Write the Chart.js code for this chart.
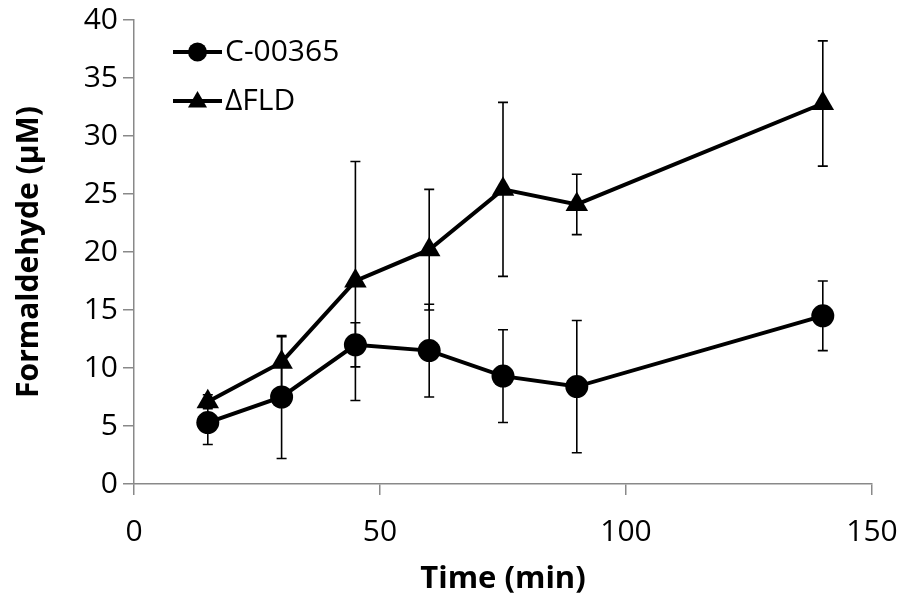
<!DOCTYPE html>
<html>
<head>
<meta charset="utf-8">
<script src="https://cdn.jsdelivr.net/npm/chart.js@4/dist/chart.umd.min.js"></script>
<style>
  html, body { margin: 0; padding: 0; background: #fff; }
  #wrap { width: 898px; height: 603px; }
</style>
</head>
<body>
<div id="wrap"><canvas id="chart" width="898" height="603"></canvas></div>
<script>
// 采样时间 (min)
const times = [15, 30, 45, 60, 75, 90, 140];

// C-00365 甲醛浓度 (μM) 与误差
const c00365 = [5.3, 7.5, 12.0, 11.5, 9.3, 8.4, 14.5];
const c00365Err = [1.9, 5.3, 1.9, 4.0, 4.0, 5.7, 3.0];

// ΔFLD 甲醛浓度 (μM) 与误差
const fld = [7.1, 10.5, 17.5, 20.2, 25.4, 24.1, 32.8];
const fldErr = [0.6, 2.2, 10.3, 5.2, 7.5, 2.6, 5.4];

// 坐标轴刻度
const xTicks = [0, 50, 100, 150];
const yTicks = [0, 5, 10, 15, 20, 25, 30, 35, 40];

const FONT = '"Open Sans", "Liberation Sans", sans-serif';
const AXIS_GREY = '#898989';

/**
 * 误差线插件: 按数据集的 errors 数组画上下误差线
 */
const errorBarPlugin = {
  id: 'errorBars',
  beforeDatasetsDraw(chart) {
    const ctx = chart.ctx;
    const xs = chart.scales.x;
    const ys = chart.scales.y;
    ctx.save();
    ctx.strokeStyle = '#000';
    ctx.lineWidth = 1.6;
    chart.data.datasets.forEach(ds => {
      ds.data.forEach((p, i) => {
        const e = ds.errors[i];
        const px = xs.getPixelForValue(p.x);
        const top = ys.getPixelForValue(p.y + e);
        const bot = ys.getPixelForValue(p.y - e);
        ctx.beginPath();
        ctx.moveTo(px, top);
        ctx.lineTo(px, bot);
        ctx.moveTo(px - 5, top);
        ctx.lineTo(px + 5, top);
        ctx.moveTo(px - 5, bot);
        ctx.lineTo(px + 5, bot);
        ctx.stroke();
      });
    });
    ctx.restore();
  }
};

/**
 * 图例插件: 画在绘图区左上角
 */
const insideLegendPlugin = {
  id: 'insideLegend',
  afterDraw(chart) {
    const ctx = chart.ctx;
    const x0 = 173, x1 = 222;
    ctx.save();
    chart.data.datasets.forEach((ds, i) => {
      const y = 52 + i * 49;
      ctx.strokeStyle = '#000';
      ctx.lineWidth = 4;
      ctx.beginPath();
      ctx.moveTo(x0, y);
      ctx.lineTo(x1, y);
      ctx.stroke();
      ctx.fillStyle = '#000';
      Chart.helpers.drawPoint(ctx, {
        pointStyle: ds.pointStyle,
        radius: ds.pointStyle === 'circle' ? 9.5 : 11,
        borderWidth: 0
      }, (x0 + x1) / 2, ds.pointStyle === 'circle' ? y : y + 1);
      ctx.fillStyle = '#000';
      ctx.font = '30px ' + FONT;
      ctx.textBaseline = 'middle';
      ctx.textAlign = 'left';
      ctx.fillText(ds.label, x1 + 3, y);
    });
    ctx.restore();
  }
};

function makeSeries(label, values, errors, style, radius) {
  return {
    label: label,
    data: times.map((t, i) => ({ x: t, y: values[i] })),
    errors: errors,
    borderColor: '#000',
    backgroundColor: '#000',
    borderWidth: 4,
    pointStyle: style,
    pointRadius: radius,
    pointHoverRadius: radius,
    pointBorderWidth: 0,
    pointBackgroundColor: '#000',
    tension: 0,
    clip: false
  };
}

new Chart(document.getElementById('chart').getContext('2d'), {
  type: 'line',
  data: {
    datasets: [
      makeSeries('C-00365', c00365, c00365Err, 'circle', 11.5),
      makeSeries('\u0394FLD', fld, fldErr, 'triangle', 13)
    ]
  },
  options: {
    responsive: false,
    animation: false,
    layout: { padding: { left: 0, right: 26, top: 20, bottom: 0 } },
    plugins: {
      legend: { display: false },
      tooltip: { enabled: false }
    },
    scales: {
      x: {
        type: 'linear',
        min: 0,
        max: 150,
        afterBuildTicks: axis => { axis.ticks = xTicks.map(v => ({ value: v })); },
        afterFit: axis => {
          axis.height = 119;
          axis.paddingLeft = 0;
          axis.paddingRight = 0;
        },
        grid: { drawOnChartArea: false, drawTicks: true, tickLength: 11, color: AXIS_GREY, lineWidth: 1.5 },
        border: { color: AXIS_GREY, width: 1.5 },
        ticks: { color: '#000', padding: 19, maxRotation: 0, font: { family: FONT, size: 30 } },
        title: {
          display: true,
          text: 'Time (min)',
          color: '#000',
          padding: { top: 0, bottom: 5 },
          font: { family: FONT, size: 31, weight: 'bold' }
        }
      },
      y: {
        min: 0,
        max: 40,
        afterBuildTicks: axis => { axis.ticks = yTicks.map(v => ({ value: v })); },
        afterFit: axis => {
          axis.width = 134;
          axis.paddingTop = 0;
          axis.paddingBottom = 0;
        },
        grid: { drawOnChartArea: false, drawTicks: true, tickLength: 11, color: AXIS_GREY, lineWidth: 1.5 },
        border: { color: AXIS_GREY, width: 1.5 },
        ticks: { color: '#000', padding: 5, font: { family: FONT, size: 30 } },
        title: {
          display: true,
          text: 'Formaldehyde (\u03bcM)',
          color: '#000',
          padding: { top: 11, bottom: 0 },
          font: { family: FONT, size: 30, weight: 'bold' }
        }
      }
    }
  },
  plugins: [errorBarPlugin, insideLegendPlugin]
});
</script>
</body>
</html>
